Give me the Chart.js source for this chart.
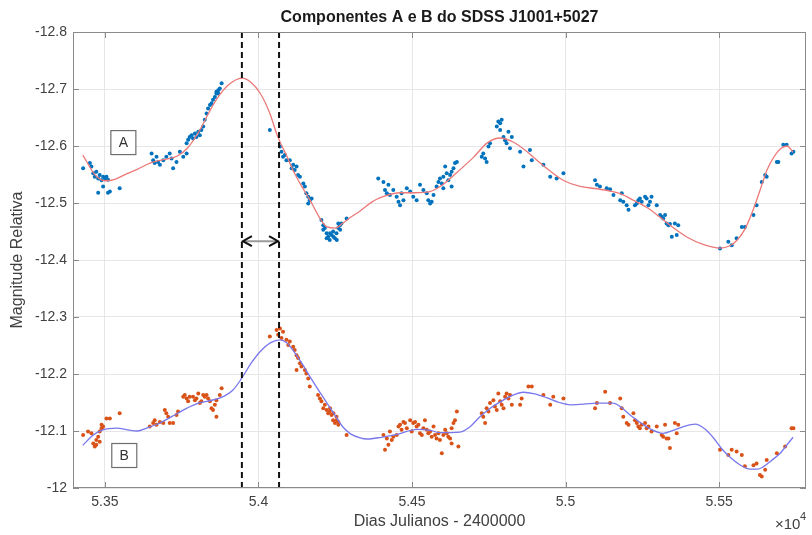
<!DOCTYPE html>
<html>
<head>
<meta charset="utf-8">
<script src="https://cdn.jsdelivr.net/npm/chart.js@4.4.1/dist/chart.umd.min.js"></script>
<style>
  html, body { margin: 0; padding: 0; background: #fff; }
</style>
</head>
<body>
<canvas id="chart" width="812" height="535"></canvas>
<script>
// Axis limits and ticks
const xMin = 53396;
const xMax = 55783;
const xTicks = [53500, 54000, 54500, 55000, 55500];
const yTicks = [-12.8, -12.7, -12.6, -12.5, -12.4, -12.3, -12.2, -12.1, -12];
const yTickLabels = ['-12.8', '-12.7', '-12.6', '-12.5', '-12.4', '-12.3', '-12.2', '-12.1', '-12'];

// Delay markers (days) and arrow height
const delayLines = [53946, 54067];
const arrowMag = -12.433;

// Label boxes [day, magnitude, text]
const labelBoxes = [[53560, -12.606, 'A'], [53563, -12.057, 'B']];

// Observed points, component A [day, magnitude]
const obsA = [
  [53429,-12.561],[53451,-12.570],[53456,-12.564],[53462,-12.552],[53467,-12.546],[53472,-12.555],[53478,-12.543],
  [53483,-12.549],[53489,-12.540],[53494,-12.546],[53500,-12.543],[53505,-12.546],[53510,-12.541],[53478,-12.518],
  [53494,-12.529],[53510,-12.518],[53516,-12.520],[53548,-12.526],
  [53652,-12.587],[53657,-12.575],[53662,-12.570],[53668,-12.581],[53673,-12.572],[53679,-12.567],[53690,-12.575],
  [53700,-12.581],[53711,-12.587],[53717,-12.578],[53722,-12.561],[53733,-12.572],[53744,-12.590],[53755,-12.581],
  [53766,-12.587],[53766,-12.605],[53771,-12.611],[53776,-12.616],[53782,-12.619],[53787,-12.613],[53793,-12.622],
  [53798,-12.616],[53804,-12.625],[53809,-12.619],[53814,-12.628],[53820,-12.634],[53825,-12.646],[53831,-12.657],
  [53836,-12.666],[53842,-12.672],[53847,-12.675],[53852,-12.681],[53858,-12.686],[53863,-12.695],[53869,-12.698],
  [53874,-12.701],[53863,-12.692],[53880,-12.710],[53869,-12.692],
  [54037,-12.628],[54070,-12.599],[54075,-12.590],[54080,-12.581],[54086,-12.584],[54091,-12.575],[54102,-12.575],
  [54108,-12.561],[54113,-12.567],[54118,-12.558],[54124,-12.564],[54129,-12.549],[54135,-12.546],[54146,-12.534],
  [54151,-12.529],[54156,-12.517],[54162,-12.511],[54167,-12.505],[54173,-12.508],[54162,-12.499],
  [54205,-12.470],[54211,-12.461],[54216,-12.456],[54222,-12.447],[54227,-12.441],[54232,-12.435],[54238,-12.444],
  [54243,-12.450],[54249,-12.438],[54254,-12.447],[54260,-12.456],[54265,-12.461],[54270,-12.464],[54287,-12.473],
  [54222,-12.438],[54211,-12.453],[54233,-12.447],[54244,-12.441],[54255,-12.435],[54260,-12.464],[54266,-12.453],
  [54390,-12.543],[54407,-12.537],[54412,-12.523],[54418,-12.517],[54423,-12.532],[54428,-12.514],[54439,-12.523],
  [54450,-12.511],[54456,-12.502],[54461,-12.496],[54466,-12.517],[54472,-12.505],[54483,-12.526],[54494,-12.520],
  [54504,-12.511],[54515,-12.505],[54526,-12.532],[54537,-12.523],[54548,-12.517],[54553,-12.505],[54559,-12.499],
  [54564,-12.502],[54570,-12.514],[54580,-12.529],[54586,-12.537],[54591,-12.543],[54597,-12.534],[54602,-12.546],
  [54608,-12.564],[54613,-12.552],[54618,-12.540],[54624,-12.549],[54629,-12.555],[54635,-12.561],[54640,-12.570],
  [54646,-12.572],[54629,-12.529],[54602,-12.526],
  [54727,-12.581],[54732,-12.587],[54738,-12.578],[54743,-12.572],[54749,-12.599],[54754,-12.605],[54776,-12.634],
  [54781,-12.643],[54787,-12.640],[54792,-12.646],[54787,-12.628],[54798,-12.616],[54803,-12.610],[54808,-12.605],
  [54814,-12.625],[54819,-12.596],[54825,-12.616],[54852,-12.590],[54863,-12.564],[54884,-12.593],[54890,-12.575],
  [54928,-12.567],[54950,-12.546],[54971,-12.543],[54993,-12.552],
  [55096,-12.540],[55102,-12.532],[55112,-12.529],[55134,-12.526],[55145,-12.524],[55156,-12.514],[55178,-12.505],
  [55183,-12.517],[55188,-12.502],[55199,-12.496],[55205,-12.488],
  [55226,-12.496],[55232,-12.499],[55237,-12.505],[55242,-12.508],[55248,-12.502],[55259,-12.511],[55264,-12.508],
  [55270,-12.496],[55275,-12.502],[55280,-12.511],[55297,-12.496],[55308,-12.479],[55313,-12.476],[55318,-12.473],
  [55324,-12.479],[55329,-12.464],[55335,-12.461],[55340,-12.463],[55346,-12.441],[55356,-12.464],[55362,-12.444],
  [55367,-12.461],
  [55503,-12.420],[55530,-12.432],[55541,-12.426],[55557,-12.438],[55574,-12.458],[55584,-12.458],[55612,-12.479],
  [55622,-12.496],[55639,-12.537],[55650,-12.549],[55655,-12.546],[55688,-12.572],[55693,-12.572],[55709,-12.602],
  [55720,-12.602],[55736,-12.587],[55742,-12.590]
];

// Observed points, component B [day, magnitude]
const obsB = [
  [53429,-12.093],[53445,-12.099],[53456,-12.096],[53462,-12.078],[53467,-12.073],[53472,-12.084],[53478,-12.090],
  [53483,-12.099],[53489,-12.105],[53489,-12.111],[53494,-12.108],[53505,-12.122],[53516,-12.122],[53548,-12.131],
  [53472,-12.076],[53483,-12.081],
  [53646,-12.108],[53657,-12.114],[53662,-12.119],[53668,-12.111],[53679,-12.116],[53690,-12.114],[53695,-12.137],
  [53700,-12.131],[53706,-12.125],[53711,-12.114],[53722,-12.114],[53733,-12.128],[53738,-12.134],
  [53755,-12.160],[53760,-12.163],[53766,-12.157],[53771,-12.152],[53776,-12.160],[53787,-12.160],[53793,-12.154],
  [53798,-12.157],[53804,-12.166],[53809,-12.149],[53814,-12.152],[53820,-12.163],[53825,-12.160],[53831,-12.163],
  [53836,-12.157],[53842,-12.152],[53847,-12.140],[53852,-12.137],[53858,-12.146],[53863,-12.125],[53863,-12.154],
  [53874,-12.163],[53880,-12.175],
  [54037,-12.266],[54059,-12.277],[54064,-12.269],[54070,-12.280],[54075,-12.263],[54080,-12.274],[54091,-12.260],
  [54097,-12.251],[54102,-12.257],[54113,-12.248],[54118,-12.242],[54124,-12.233],[54129,-12.228],[54135,-12.219],
  [54140,-12.213],[54124,-12.207],[54151,-12.207],[54156,-12.201],[54162,-12.192],[54167,-12.178],
  [54194,-12.163],[54200,-12.157],[54205,-12.152],[54211,-12.140],[54216,-12.146],[54222,-12.137],[54227,-12.131],
  [54232,-12.134],[54238,-12.128],[54243,-12.119],[54249,-12.114],[54254,-12.125],[54260,-12.116],
  [54233,-12.140],[54244,-12.131],[54255,-12.119],[54260,-12.111],[54287,-12.093],
  [54407,-12.093],[54412,-12.067],[54418,-12.087],[54423,-12.076],[54428,-12.099],[54434,-12.084],[54439,-12.090],
  [54450,-12.093],[54456,-12.108],[54461,-12.111],[54466,-12.102],[54472,-12.116],[54477,-12.114],[54483,-12.105],
  [54494,-12.119],[54499,-12.099],[54504,-12.114],[54510,-12.116],[54515,-12.108],[54521,-12.111],[54526,-12.096],
  [54532,-12.093],[54537,-12.105],[54542,-12.119],[54548,-12.102],[54553,-12.096],[54559,-12.099],[54564,-12.090],
  [54570,-12.108],[54575,-12.093],[54580,-12.087],[54586,-12.096],[54591,-12.084],[54597,-12.061],[54602,-12.093],
  [54608,-12.102],[54613,-12.096],[54618,-12.090],[54624,-12.087],[54629,-12.105],[54635,-12.114],[54640,-12.119],
  [54646,-12.134],[54651,-12.073],[54629,-12.078],
  [54727,-12.131],[54732,-12.125],[54738,-12.114],[54743,-12.140],[54749,-12.134],[54754,-12.149],[54765,-12.154],
  [54770,-12.143],[54776,-12.137],[54781,-12.166],[54787,-12.152],[54792,-12.146],[54798,-12.140],[54803,-12.160],
  [54808,-12.166],[54814,-12.157],[54819,-12.163],[54825,-12.146],[54852,-12.146],[54857,-12.157],[54879,-12.178],
  [54890,-12.178],[54928,-12.163],[54950,-12.146],[54960,-12.160],[54993,-12.157],
  [55096,-12.140],[55102,-12.149],[55129,-12.169],[55145,-12.149],[55178,-12.157],[55183,-12.140],[55199,-12.114],
  [55205,-12.111],[55188,-12.125],
  [55221,-12.131],[55226,-12.119],[55232,-12.114],[55237,-12.108],[55242,-12.105],[55248,-12.111],[55259,-12.114],
  [55264,-12.105],[55270,-12.108],[55280,-12.099],[55297,-12.108],[55313,-12.093],[55318,-12.090],[55324,-12.111],
  [55329,-12.087],[55335,-12.087],[55340,-12.070],[55356,-12.114],[55362,-12.096],[55367,-12.111],
  [55503,-12.067],[55530,-12.058],[55541,-12.067],[55557,-12.064],[55574,-12.058],[55584,-12.038],[55612,-12.040],
  [55622,-12.043],[55633,-12.023],[55639,-12.020],[55650,-12.032],[55655,-12.049],[55688,-12.061],[55715,-12.073],
  [55736,-12.105],[55742,-12.105]
];

// Fitted curves [day, magnitude]
const fitA = [
  [53428,-12.584],[53470,-12.548],[53500,-12.539],[53530,-12.541],[53570,-12.551],[53605,-12.559],[53647,-12.570],
  [53690,-12.576],[53734,-12.582],[53770,-12.597],[53809,-12.628],[53840,-12.660],[53865,-12.683],[53900,-12.706],
  [53946,-12.719],[53975,-12.712],[54005,-12.693],[54035,-12.660],[54063,-12.616],[54090,-12.585],[54112,-12.558],
  [54140,-12.530],[54168,-12.505],[54195,-12.478],[54223,-12.458],[54250,-12.456],[54275,-12.465],[54300,-12.475],
  [54331,-12.486],[54370,-12.502],[54405,-12.511],[54461,-12.518],[54510,-12.518],[54558,-12.520],[54600,-12.532],
  [54647,-12.554],[54700,-12.580],[54744,-12.605],[54787,-12.614],[54829,-12.607],[54870,-12.592],[54907,-12.575],
  [54950,-12.556],[54992,-12.540],[55047,-12.529],[55103,-12.525],[55145,-12.521],[55180,-12.516],[55220,-12.505],
  [55265,-12.492],[55308,-12.475],[55350,-12.457],[55396,-12.440],[55450,-12.427],[55503,-12.421],[55535,-12.425],
  [55559,-12.435],[55585,-12.455],[55611,-12.488],[55635,-12.525],[55656,-12.558],[55680,-12.582],[55700,-12.595],
  [55721,-12.600],[55741,-12.589]
];
const fitB = [
  [53428,-12.075],[53460,-12.092],[53493,-12.102],[53539,-12.105],[53575,-12.102],[53604,-12.100],[53640,-12.106],
  [53679,-12.114],[53720,-12.126],[53767,-12.140],[53800,-12.148],[53832,-12.152],[53875,-12.158],[53917,-12.172],
  [53946,-12.193],[53975,-12.218],[54005,-12.239],[54040,-12.255],[54070,-12.260],[54092,-12.255],[54112,-12.242],
  [54140,-12.220],[54168,-12.195],[54195,-12.172],[54223,-12.149],[54250,-12.127],[54275,-12.107],[54300,-12.095],
  [54331,-12.088],[54353,-12.086],[54400,-12.089],[54451,-12.094],[54516,-12.103],[54560,-12.101],[54591,-12.097],
  [54656,-12.098],[54690,-12.108],[54721,-12.125],[54755,-12.140],[54787,-12.151],[54825,-12.162],[54862,-12.168],
  [54900,-12.165],[54940,-12.158],[54980,-12.150],[55015,-12.146],[55060,-12.147],[55103,-12.149],[55155,-12.149],
  [55185,-12.140],[55210,-12.128],[55233,-12.119],[55275,-12.104],[55318,-12.096],[55350,-12.101],[55380,-12.107],
  [55422,-12.112],[55455,-12.103],[55480,-12.089],[55510,-12.068],[55536,-12.054],[55570,-12.040],[55601,-12.033],
  [55625,-12.033],[55643,-12.037],[55670,-12.048],[55699,-12.061],[55720,-12.075],[55741,-12.089]
];

const FONT = '"Liberation Sans", Arial, sans-serif';
const toXY = arr => arr.map(p => ({ x: p[0], y: p[1] }));

// Frame, inner ticks, titles, arrow and label boxes
const decorations = {
    id: 'decorations',
    beforeDraw(chart) {
        const ctx = chart.ctx;
        ctx.save();
        ctx.fillStyle = '#fff';
        ctx.fillRect(0, 0, chart.width, chart.height);
        ctx.restore();
    },
    afterDatasetsDraw(chart) {
        const ctx = chart.ctx;
        const a = chart.chartArea;
        const xs = chart.scales.x;
        const ys = chart.scales.y;
        ctx.save();

        // axes box
        ctx.strokeStyle = '#8a8a8a';
        ctx.lineWidth = 1;
        ctx.strokeRect(a.left + 0.5, a.top + 0.5, a.right - a.left - 1, a.bottom - a.top - 1);

        // inward tick marks
        ctx.beginPath();
        xTicks.forEach(v => {
            const px = Math.round(xs.getPixelForValue(v)) + 0.5;
            ctx.moveTo(px, a.bottom); ctx.lineTo(px, a.bottom - 6);
            ctx.moveTo(px, a.top); ctx.lineTo(px, a.top + 6);
        });
        yTicks.forEach(v => {
            const py = Math.round(ys.getPixelForValue(v)) + 0.5;
            ctx.moveTo(a.left, py); ctx.lineTo(a.left + 6, py);
            ctx.moveTo(a.right, py); ctx.lineTo(a.right - 6, py);
        });
        ctx.stroke();

        // delay arrow
        const x1 = xs.getPixelForValue(delayLines[0]);
        const x2 = xs.getPixelForValue(delayLines[1]);
        const ay = ys.getPixelForValue(arrowMag);
        ctx.strokeStyle = '#9a9a9a';
        ctx.lineWidth = 2;
        ctx.beginPath();
        ctx.moveTo(x1 + 3, ay); ctx.lineTo(x2 - 3, ay);
        ctx.stroke();
        ctx.strokeStyle = '#111';
        ctx.lineWidth = 2;
        ctx.beginPath();
        ctx.moveTo(x1 + 10, ay - 5); ctx.lineTo(x1 + 1, ay); ctx.lineTo(x1 + 10, ay + 5);
        ctx.moveTo(x2 - 10, ay - 5); ctx.lineTo(x2 - 1, ay); ctx.lineTo(x2 - 10, ay + 5);
        ctx.stroke();

        // label boxes
        ctx.font = '14px ' + FONT;
        ctx.textAlign = 'center';
        ctx.textBaseline = 'middle';
        labelBoxes.forEach(b => {
            const cx = xs.getPixelForValue(b[0]);
            const cy = ys.getPixelForValue(b[1]);
            ctx.fillStyle = '#fff';
            ctx.fillRect(cx - 12.5, cy - 12, 25, 24);
            ctx.strokeStyle = '#6e6e6e';
            ctx.lineWidth = 1.2;
            ctx.strokeRect(cx - 12.5, cy - 12, 25, 24);
            ctx.fillStyle = '#333';
            ctx.fillText(b[2], cx, cy + 1);
        });

        // titles
        const midX = (a.left + a.right) / 2;
        ctx.fillStyle = '#1a1a1a';
        ctx.font = 'bold 16px ' + FONT;
        ctx.fillText('Componentes A e B do SDSS J1001+5027', midX, 18);

        ctx.fillStyle = '#404040';
        ctx.font = '16px ' + FONT;
        ctx.fillText('Dias Julianos - 2400000', midX, 522);

        ctx.save();
        ctx.translate(18, (a.top + a.bottom) / 2);
        ctx.rotate(-Math.PI / 2);
        ctx.fillText('Magnitude Relativa', 0, 0);
        ctx.restore();

        // exponent
        ctx.font = '15px ' + FONT;
        ctx.textAlign = 'left';
        ctx.fillText('\u00d710', 775, 525);
        ctx.font = '11px ' + FONT;
        ctx.fillText('4', 800, 517);

        ctx.restore();
    }
};

new Chart(document.getElementById('chart'), {
    type: 'scatter',
    data: {
        datasets: [
            {
                type: 'line',
                data: [{ x: delayLines[0], y: -12.8 }, { x: delayLines[0], y: -12 }],
                borderColor: '#111',
                borderWidth: 2,
                borderDash: [6, 4],
                pointRadius: 0
            },
            {
                type: 'line',
                data: [{ x: delayLines[1], y: -12.8 }, { x: delayLines[1], y: -12 }],
                borderColor: '#111',
                borderWidth: 2,
                borderDash: [6, 4],
                pointRadius: 0
            },
            {
                type: 'line',
                data: toXY(fitA),
                borderColor: 'rgb(236, 120, 120)',
                borderWidth: 1.3,
                pointRadius: 0,
                cubicInterpolationMode: 'monotone'
            },
            {
                type: 'line',
                data: toXY(fitB),
                borderColor: 'rgb(120, 120, 236)',
                borderWidth: 1.3,
                pointRadius: 0,
                cubicInterpolationMode: 'monotone'
            },
            {
                data: toXY(obsA),
                backgroundColor: '#0072BD',
                borderWidth: 0,
                pointRadius: 2
            },
            {
                data: toXY(obsB),
                backgroundColor: '#D95319',
                borderWidth: 0,
                pointRadius: 2
            }
        ]
    },
    options: {
        responsive: false,
        animation: false,
        layout: { padding: { left: 0, right: 6, top: 32, bottom: 0 } },
        plugins: {
            legend: { display: false },
            tooltip: { enabled: false },
            title: { display: false }
        },
        scales: {
            x: {
                type: 'linear',
                min: xMin,
                max: xMax,
                afterBuildTicks: s => { s.ticks = xTicks.map(v => ({ value: v })); },
                afterFit: s => { s.height = 47; },
                border: { display: false },
                grid: { color: '#e6e6e6', drawTicks: false },
                ticks: {
                    padding: 6,
                    color: '#404040',
                    font: { family: FONT, size: 14 },
                    maxRotation: 0,
                    callback: v => String(v / 10000)
                }
            },
            y: {
                type: 'linear',
                min: -12.8,
                max: -12,
                reverse: true,
                afterBuildTicks: s => { s.ticks = yTicks.map(v => ({ value: v })); },
                afterFit: s => { s.width = 73; },
                border: { display: false },
                grid: { color: '#e6e6e6', drawTicks: false },
                ticks: {
                    padding: 6,
                    color: '#404040',
                    font: { family: FONT, size: 14 },
                    callback: (v, i) => yTickLabels[i]
                }
            }
        }
    },
    plugins: [decorations]
});
</script>
</body>
</html>
